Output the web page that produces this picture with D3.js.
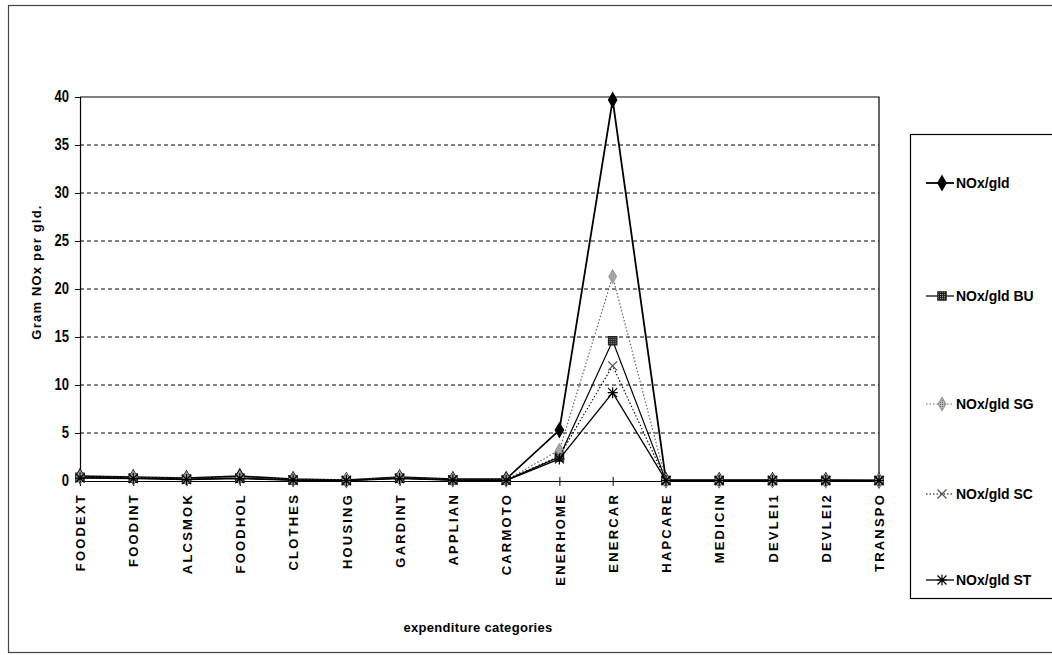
<!DOCTYPE html>
<html>
<head>
<meta charset="utf-8">
<script src="https://cdn.jsdelivr.net/npm/d3@7"></script>
<style>
  html, body { margin: 0; padding: 0; background: #fff; }
  svg { display: block; }
  text { font-family: "Liberation Sans", Arial, sans-serif; fill: #000; }
</style>
</head>
<body>
<svg id="chart" width="1052" height="655"></svg>
<script>
// Expenditure categories along the x axis
const categories = ["FOODEXT", "FOODINT", "ALCSMOK", "FOODHOL", "CLOTHES", "HOUSING",
  "GARDINT", "APPLIAN", "CARMOTO", "ENERHOME", "ENERCAR", "HAPCARE",
  "MEDICIN", "DEVLEI1", "DEVLEI2", "TRANSPO"];

// Gram NOx per guilder, one array per series
const noxGld   = [0.5, 0.4, 0.3, 0.5, 0.2, 0.1, 0.4, 0.2, 0.2, 5.3, 39.7, 0.1, 0.1, 0.1, 0.1, 0.05];
const noxGldBU = [0.4, 0.3, 0.2, 0.3, 0.1, 0.05, 0.3, 0.1, 0.1, 2.5, 14.6, 0.05, 0.05, 0.05, 0.05, 0.05];
const noxGldSG = [0.4, 0.35, 0.25, 0.35, 0.15, 0.1, 0.35, 0.15, 0.1, 3.2, 21.3, 0.05, 0.05, 0.05, 0.05, 0.05];
const noxGldSC = [0.35, 0.3, 0.2, 0.3, 0.1, 0.05, 0.3, 0.1, 0.1, 2.6, 12.0, 0.05, 0.05, 0.05, 0.05, 0.05];
const noxGldST = [0.3, 0.25, 0.15, 0.25, 0.1, 0.05, 0.25, 0.1, 0.05, 2.3, 9.2, 0.05, 0.05, 0.05, 0.05, 0.05];

const seriesNames = ["NOx/gld", "NOx/gld BU", "NOx/gld SG", "NOx/gld SC", "NOx/gld ST"];
const seriesValues = [noxGld, noxGldBU, noxGldSG, noxGldSC, noxGldST];

// Y axis tick values
const yTicks = [0, 5, 10, 15, 20, 25, 30, 35, 40];

const svg = d3.select("#chart");
const narrow = "'Liberation Sans Narrow', 'Liberation Sans', Arial, sans-serif";

// Hatch fills for the square and grey markers
const defs = svg.append("defs");
const pBU = defs.append("pattern").attr("id", "hatchBU").attr("patternUnits", "userSpaceOnUse")
  .attr("width", 2).attr("height", 2);
pBU.append("rect").attr("width", 2).attr("height", 2).attr("fill", "#222");
pBU.append("rect").attr("width", 1).attr("height", 1).attr("fill", "#999");
const pSG = defs.append("pattern").attr("id", "hatchSG").attr("patternUnits", "userSpaceOnUse")
  .attr("width", 2).attr("height", 2);
pSG.append("rect").attr("width", 2).attr("height", 2).attr("fill", "#bbb");
pSG.append("rect").attr("width", 1).attr("height", 1).attr("fill", "#666");

// Outer frame
svg.append("rect").attr("x", 8.5).attr("y", 5.5).attr("width", 1100).attr("height", 647)
  .attr("fill", "none").attr("stroke", "#444").attr("stroke-width", 1.2);

const plot = { left: 80, right: 879, top: 97, bottom: 481 };

const x = d3.scalePoint().domain(categories).range([plot.left, plot.right]);
const y = d3.scaleLinear().domain([0, 40]).range([plot.bottom, plot.top]);

// Dashed gridlines
svg.append("g").selectAll("line").data(yTicks.filter(v => v > 0 && v < 40)).join("line")
  .attr("x1", plot.left).attr("x2", plot.right)
  .attr("y1", d => y(d)).attr("y2", d => y(d))
  .attr("stroke", "#000").attr("stroke-width", 1).attr("stroke-dasharray", "4,3");

// Plot border (top and right)
svg.append("path")
  .attr("d", `M${plot.left},${y(40)}H${plot.right}V${plot.bottom}`)
  .attr("fill", "none").attr("stroke", "#000").attr("stroke-width", 1.2);

// Y axis
const yAxis = svg.append("g").attr("transform", `translate(${plot.left},0)`)
  .call(d3.axisLeft(y).tickValues(yTicks).tickSize(5).tickPadding(6));
yAxis.select(".domain").attr("stroke", "#000").attr("stroke-width", 1.2);
yAxis.selectAll("text").attr("font-size", 13).attr("font-weight", "bold")
  .style("font-family", narrow)
  .attr("transform", "scale(1,1.2)")
  .attr("dy", "0.3em");

// X axis
const xAxis = svg.append("g").attr("transform", `translate(0,${plot.bottom})`)
  .call(d3.axisBottom(x).tickSize(5).tickPadding(0));
xAxis.select(".domain").attr("stroke", "#000").attr("stroke-width", 1.2);
xAxis.selectAll(".tick line").attr("y1", -4).attr("y2", 5);
xAxis.selectAll(".tick text")
  .attr("transform", "translate(0,12) rotate(-90)")
  .attr("text-anchor", "end").attr("x", 0).attr("y", 0).attr("dy", "0.36em")
  .attr("font-size", 13).attr("font-weight", "bold").attr("letter-spacing", "2.2px");

// Axis titles
svg.append("text").attr("x", 478).attr("y", 632).attr("text-anchor", "middle")
  .attr("font-size", 13).attr("font-weight", "bold").attr("letter-spacing", "0.3px")
  .text("expenditure categories");
svg.append("text").attr("transform", "translate(41,272) rotate(-90)").attr("text-anchor", "middle")
  .attr("font-size", 13).attr("font-weight", "bold").attr("letter-spacing", "1.2px")
  .text("Gram NOx per gld.");

// Marker shapes
function markerPath(kind) {
  switch (kind) {
    case "diamond": return d3.symbol(d3.symbolDiamond, 60)();
    case "square": return d3.symbol(d3.symbolSquare, 70)();
    case "greyDiamond": return d3.symbol(d3.symbolDiamond, 50)();
    case "x": return "M-4.5,-4.5L4.5,4.5M-4.5,4.5L4.5,-4.5";
    case "star": return "M-4.5,-4.5L4.5,4.5M-4.5,4.5L4.5,-4.5M0,-5.5V5.5M-5,0H5";
  }
}

const styles = [
  { stroke: "#000", width: 1.8, dash: null, marker: "diamond", fill: "#000", mstroke: "#000" },
  { stroke: "#000", width: 1.2, dash: null, marker: "square", fill: "url(#hatchBU)", mstroke: "#222" },
  { stroke: "#666", width: 1.2, dash: "1.5,2", marker: "greyDiamond", fill: "url(#hatchSG)", mstroke: "#999" },
  { stroke: "#000", width: 1.1, dash: "1.5,2", marker: "x", fill: "none", mstroke: "#555" },
  { stroke: "#000", width: 1.3, dash: null, marker: "star", fill: "none", mstroke: "#000" }
];

const line = d3.line().x((d, i) => x(categories[i])).y(d => y(d));

// Series lines and markers
seriesValues.forEach((vals, s) => {
  const st = styles[s];
  const g = svg.append("g");
  g.append("path").datum(vals).attr("d", line)
    .attr("fill", "none").attr("stroke", st.stroke).attr("stroke-width", st.width)
    .attr("stroke-dasharray", st.dash);
  g.selectAll("path.m").data(vals).join("path").attr("class", "m")
    .attr("transform", (d, i) => `translate(${x(categories[i])},${y(d)})`)
    .attr("d", markerPath(st.marker))
    .attr("fill", st.fill).attr("stroke", st.mstroke).attr("stroke-width", 1.2);
});

// Legend
const legend = { x: 910, y: 134, w: 200, h: 464 };
svg.append("rect").attr("x", legend.x + 0.5).attr("y", legend.y + 0.5)
  .attr("width", legend.w).attr("height", legend.h)
  .attr("fill", "#fff").attr("stroke", "#000").attr("stroke-width", 1.2);
const legendRows = [183, 296, 404, 494, 580];
seriesNames.forEach((name, s) => {
  const st = styles[s];
  const ly = legendRows[s];
  const g = svg.append("g");
  g.append("line").attr("x1", 926).attr("x2", 954).attr("y1", ly).attr("y2", ly)
    .attr("stroke", st.stroke).attr("stroke-width", st.width).attr("stroke-dasharray", st.dash);
  g.append("path").attr("transform", `translate(942,${ly})`).attr("d", markerPath(st.marker))
    .attr("fill", st.fill).attr("stroke", st.mstroke).attr("stroke-width", 1.2);
  g.append("text").attr("x", 956).attr("y", ly).attr("dy", "0.35em")
    .attr("font-size", 14).attr("font-weight", "bold")
    .style("font-family", narrow)
    .attr("transform", `translate(0,${ly}) scale(1,1.1) translate(0,${-ly})`)
    .text(name);
});
</script>
</body>
</html>
